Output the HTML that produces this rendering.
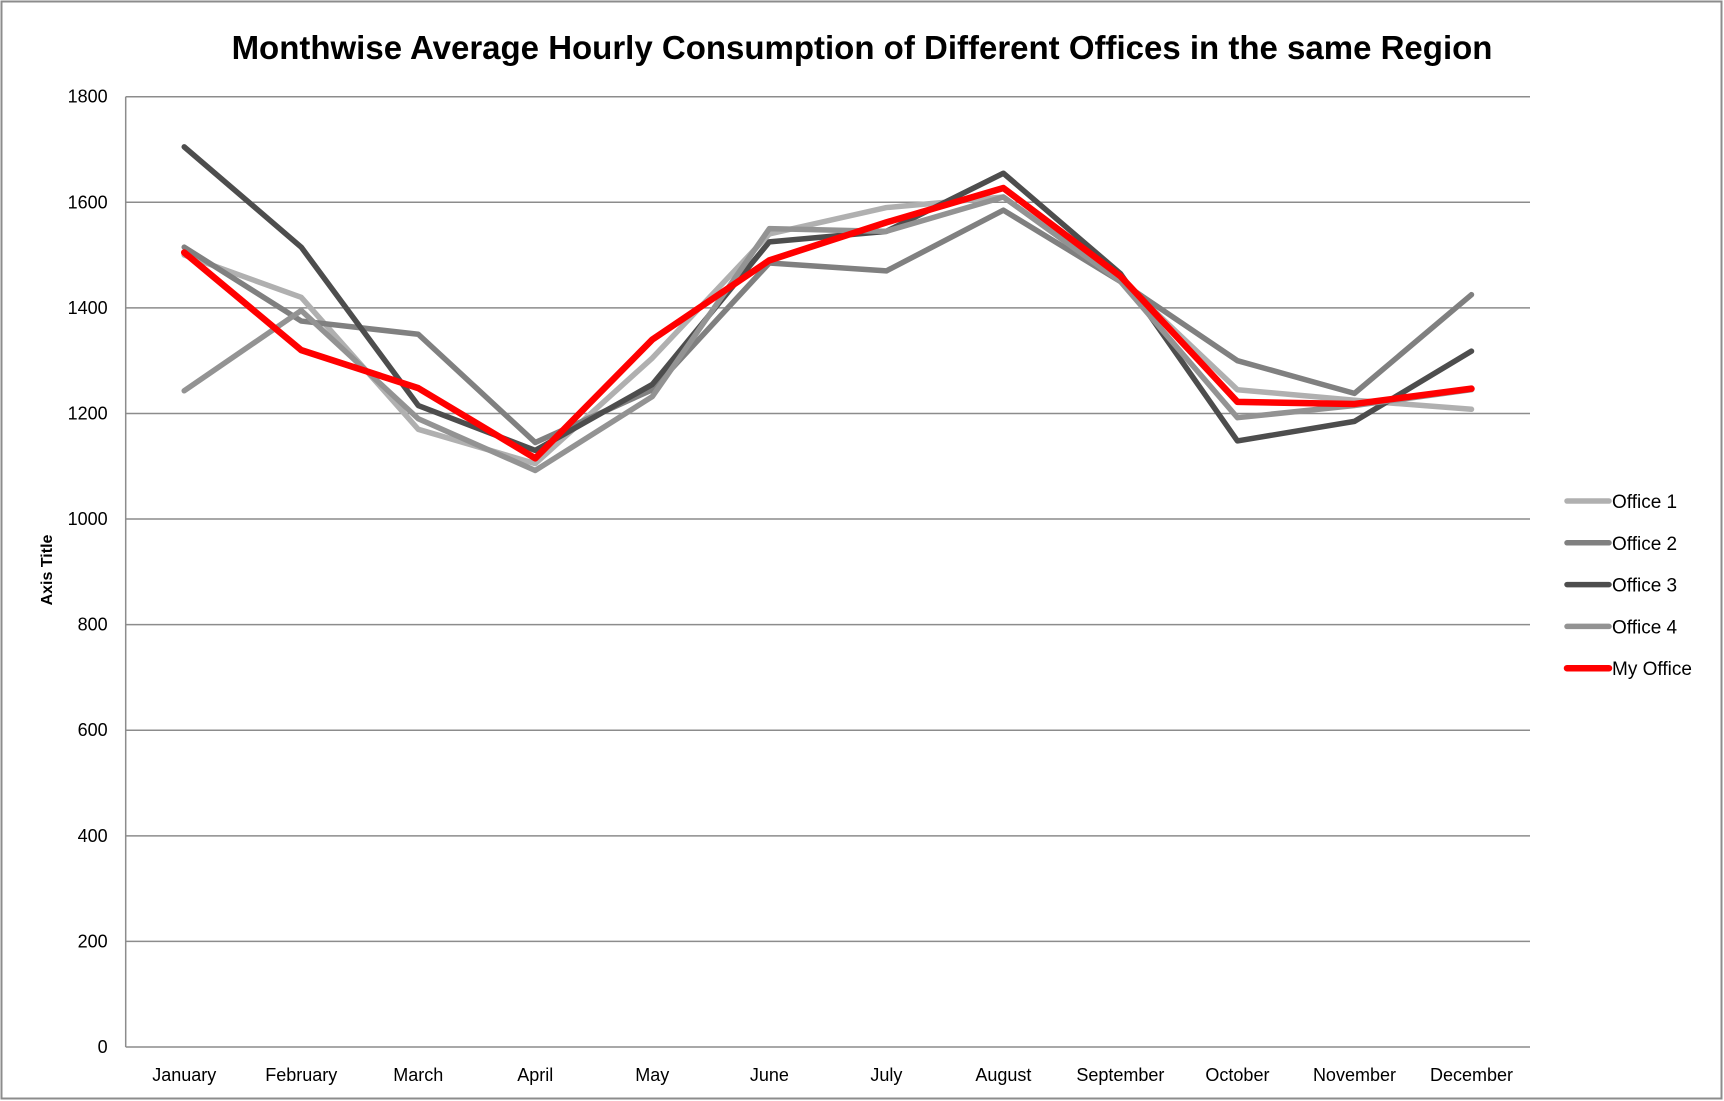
<!DOCTYPE html>
<html><head><meta charset="utf-8"><style>
body{margin:0;background:#fff;}
svg{display:block;font-family:"Liberation Sans",sans-serif;}
</style></head><body>
<svg id="chart" width="1724" height="1101">
<rect x="1.5" y="1.5" width="1720" height="1097" fill="#fff" stroke="#8c8c8c" stroke-width="2"/>
<text x="862" y="59" text-anchor="middle" font-size="33" font-weight="bold">Monthwise Average Hourly Consumption of Different Offices in the same Region</text>
<text transform="translate(52,570) rotate(-90)" text-anchor="middle" font-size="16" font-weight="bold">Axis Title</text>
<g id="grid"></g><g id="series"></g><g id="legend"></g>
</svg>
<script>
const months=["January","February","March","April","May","June","July","August","September","October","November","December"];
const yTicks=[0,200,400,600,800,1000,1200,1400,1600,1800];
const office1=[1500,1420,1170,1105,1305,1540,1590,1610,1455,1245,1225,1208];
const office2=[1515,1375,1350,1145,1245,1485,1470,1585,1450,1300,1238,1425];
const office3=[1705,1515,1215,1130,1255,1525,1545,1655,1465,1148,1185,1318];
const office4=[1243,1395,1190,1092,1232,1550,1545,1610,1450,1192,1215,1245];
const myOffice=[1505,1320,1248,1115,1340,1490,1562,1627,1460,1222,1218,1247];
const seriesNames=["Office 1","Office 2","Office 3","Office 4","My Office"];
const NS="http://www.w3.org/2000/svg";
const L=125.7,R=1530,T=96.7,B=1047;
const cw=(R-L)/months.length;
const x=i=>L+cw*(i+0.5);
const y=v=>B-(v/1800)*(B-T);
function mk(tag,attrs,parent){const e=document.createElementNS(NS,tag);for(const k in attrs)e.setAttribute(k,attrs[k]);parent.appendChild(e);return e;}
const grid=document.getElementById('grid');
yTicks.forEach(v=>{
  const l=mk('line',{x1:L,x2:R,y1:y(v),y2:y(v),stroke:'#8c8c8c','stroke-width':1.5},grid);
  
  
  const t=mk('text',{x:L-18,y:y(v)+6,'text-anchor':'end','font-size':18},grid);
  t.textContent=v;
  
  
});
const ax=mk('line',{x1:L,x2:L,y1:T,y2:B,stroke:'#8c8c8c','stroke-width':1.5},grid);


months.forEach((m,i)=>{
  const t=mk('text',{x:x(i),y:1081,'text-anchor':'middle','font-size':18},grid);
  t.textContent=m;
  
  
});
const data=[office1,office2,office3,office4,myOffice];
const colors=["#b0b0b0","#808080","#4d4d4d","#939393","#ff0000"];
const widths=[5.5,5.5,5.5,5.5,6.5];
const sg=document.getElementById('series'),lg=document.getElementById('legend');
data.forEach((d,s)=>{
  const p=mk('polyline',{points:d.map((v,i)=>x(i)+','+y(v)).join(' '),fill:'none',stroke:colors[s],'stroke-width':widths[s],'stroke-linejoin':'round','stroke-linecap':'round'},sg);
  
  
  const ly=501+s*41.8;
  const ll=mk('line',{x1:1567,x2:1609,y1:ly,y2:ly,stroke:colors[s],'stroke-width':widths[s],'stroke-linecap':'round'},lg);
  
  
  const lt=mk('text',{x:1612,y:ly+7,'font-size':19},lg);
  lt.textContent=seriesNames[s];
  
  
});
</script>
</body></html>
